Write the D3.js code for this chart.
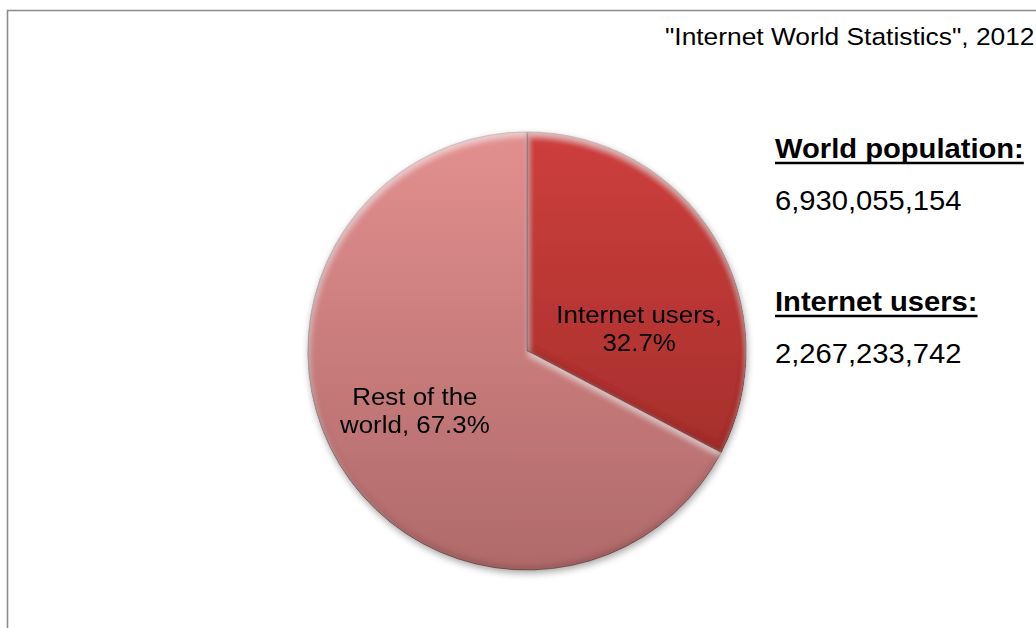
<!DOCTYPE html>
<html>
<head>
<meta charset="utf-8">
<script src="https://cdn.jsdelivr.net/npm/d3@7"></script>
<style>
  html, body { margin: 0; padding: 0; background: #fff; }
  svg { display: block; }
  text { font-family: "Liberation Sans", Arial, sans-serif; fill: #000; }
</style>
</head>
<body>
<svg id="chart" width="1036" height="628"></svg>
<script>
// Share of the world's population online, 2012
const categories = ["Internet users", "Rest of the world"];
const shares = [32.7, 67.3];

const statLabels = ["World population:", "Internet users:"];
const statValues = [6930055154, 2267233742];

const sourceNote = "\"Internet World Statistics\", 2012";

// ---- layout ----
const W = 1036, H = 628;
const cx = 527, cy = 351, R = 219;
const stretch = 1.08;          // horizontal glyph scaling used for all text
const labelSize = 24, labelLead = 28, labelWrap = 160;
const labelRadius = 131;
const labelNudge = [[0, 53], [0, 0]];

const svg = d3.select("#chart");
const defs = svg.append("defs");

// Vertical shading of each slice (coordinates relative to the pie centre)
const gradStops = [
  [["0%", "#cd3f3d"], ["55%", "#b13331"], ["100%", "#922725"]],
  [["0%", "#e38f8f"], ["55%", "#c67a7a"], ["100%", "#b06a6a"]]
];
gradStops.forEach((stops, i) => {
  const g = defs.append("linearGradient")
    .attr("id", "fill" + i)
    .attr("gradientUnits", "userSpaceOnUse")
    .attr("x1", 0).attr("y1", -R)
    .attr("x2", 0).attr("y2", R);
  stops.forEach(([o, c]) => g.append("stop").attr("offset", o).attr("stop-color", c));
});

// Inner bevel: light on upper edges, shade on lower edges
const bevel = defs.append("filter").attr("id", "bevel")
  .attr("x", "-5%").attr("y", "-5%").attr("width", "110%").attr("height", "110%");
bevel.append("feGaussianBlur").attr("in", "SourceAlpha").attr("stdDeviation", 3).attr("result", "b");
bevel.append("feOffset").attr("in", "b").attr("dx", 0.5).attr("dy", 3.5).attr("result", "bDown");
bevel.append("feComposite").attr("in", "SourceAlpha").attr("in2", "bDown")
  .attr("operator", "arithmetic").attr("k1", 0).attr("k2", 1).attr("k3", -1).attr("k4", 0).attr("result", "hiMask");
bevel.append("feFlood").attr("flood-color", "#fff").attr("flood-opacity", 0.55).attr("result", "hiCol");
bevel.append("feComposite").attr("in", "hiCol").attr("in2", "hiMask").attr("operator", "in").attr("result", "hi");
bevel.append("feOffset").attr("in", "b").attr("dx", -0.5).attr("dy", -3.5).attr("result", "bUp");
bevel.append("feComposite").attr("in", "SourceAlpha").attr("in2", "bUp")
  .attr("operator", "arithmetic").attr("k1", 0).attr("k2", 1).attr("k3", -1).attr("k4", 0).attr("result", "shMask");
bevel.append("feFlood").attr("flood-color", "#2a0808").attr("flood-opacity", 0.4).attr("result", "shCol");
bevel.append("feComposite").attr("in", "shCol").attr("in2", "shMask").attr("operator", "in").attr("result", "sh");
const bm = bevel.append("feMerge");
bm.append("feMergeNode").attr("in", "SourceGraphic");
bm.append("feMergeNode").attr("in", "hi");
bm.append("feMergeNode").attr("in", "sh");

// Soft shadow under the whole pie
const drop = defs.append("filter").attr("id", "drop")
  .attr("x", "-10%").attr("y", "-10%").attr("width", "120%").attr("height", "125%");
drop.append("feGaussianBlur").attr("in", "SourceAlpha").attr("stdDeviation", 3.5).attr("result", "db");
drop.append("feOffset").attr("in", "db").attr("dx", 1).attr("dy", 3).attr("result", "dbo");
drop.append("feFlood").attr("flood-color", "#000").attr("flood-opacity", 0.35).attr("result", "dc");
drop.append("feComposite").attr("in", "dc").attr("in2", "dbo").attr("operator", "in").attr("result", "ds");
const dm = drop.append("feMerge");
dm.append("feMergeNode").attr("in", "ds");
dm.append("feMergeNode").attr("in", "SourceGraphic");

// Frame lines (top and left)
svg.append("path")
  .attr("d", `M7.5,${H + 2} V10.5 H${W + 2}`)
  .attr("fill", "none").attr("stroke", "#8c8c8c").attr("stroke-width", 1.6);

// ---- pie ----
const data = categories.map((c, i) => ({ category: c, value: shares[i], idx: i }));
const pie = d3.pie().value(d => d.value).sort(null);
const arcs = pie(data);
const arc = d3.arc().innerRadius(0).outerRadius(R);
const labelArc = d3.arc().innerRadius(labelRadius).outerRadius(labelRadius);

const pieG = svg.append("g")
  .attr("transform", `translate(${cx},${cy})`)
  .attr("filter", "url(#drop)");

pieG.selectAll("path.slice")
  .data(arcs)
  .join("path")
  .attr("class", "slice")
  .attr("d", arc)
  .attr("fill", d => `url(#fill${d.data.idx})`)
  .attr("filter", "url(#bevel)")
  .attr("stroke", "rgba(70,30,30,0.5)")
  .attr("stroke-width", 0.9);

// Data labels: "<category>, <share>%" wrapped to fit
const fmtPct = d3.format(".1f");
const measure = svg.append("text").attr("font-size", labelSize).attr("visibility", "hidden");
function wrap(str) {
  const words = str.split(" ");
  const lines = [];
  let cur = "";
  words.forEach(w => {
    const test = cur ? cur + " " + w : w;
    measure.text(test);
    if (cur && measure.node().getComputedTextLength() > labelWrap) {
      lines.push(cur);
      cur = w;
    } else {
      cur = test;
    }
  });
  if (cur) lines.push(cur);
  return lines;
}

arcs.forEach((d, i) => {
  const [lx, ly] = labelArc.centroid(d);
  const x = lx + labelNudge[i][0], y = ly + labelNudge[i][1];
  const lines = wrap(`${d.data.category}, ${fmtPct(d.data.value)}%`);
  lines.forEach((line, j) => {
    pieG.append("text")
      .attr("transform", `translate(${x},${y + (j - (lines.length - 1) / 2) * labelLead + 0.5}) scale(${stretch},1)`)
      .attr("text-anchor", "middle")
      .attr("font-size", labelSize)
      .text(line);
  });
});
measure.remove();

// ---- source note ----
svg.append("text")
  .attr("transform", `translate(665,45) scale(${stretch},1)`)
  .attr("font-size", 24.4)
  .text(sourceNote);

// ---- statistics block ----
const fmtNum = d3.format(",");
const statX = 775;
const statTop = [157.5, 310.5];
const statSize = 27;
statLabels.forEach((lab, i) => {
  const t = svg.append("text")
    .attr("transform", `translate(${statX},${statTop[i]}) scale(${stretch},1)`)
    .attr("font-size", statSize)
    .attr("font-weight", "bold")
    .text(lab);
  const w = t.node().getComputedTextLength() * stretch;
  svg.append("line")
    .attr("x1", statX).attr("x2", statX + w)
    .attr("y1", statTop[i] + 5.5).attr("y2", statTop[i] + 5.5)
    .attr("stroke", "#000").attr("stroke-width", 2.4);
  svg.append("text")
    .attr("transform", `translate(${statX},${statTop[i] + 52.5}) scale(${stretch},1)`)
    .attr("font-size", statSize)
    .text(fmtNum(statValues[i]));
});
</script>
</body>
</html>
